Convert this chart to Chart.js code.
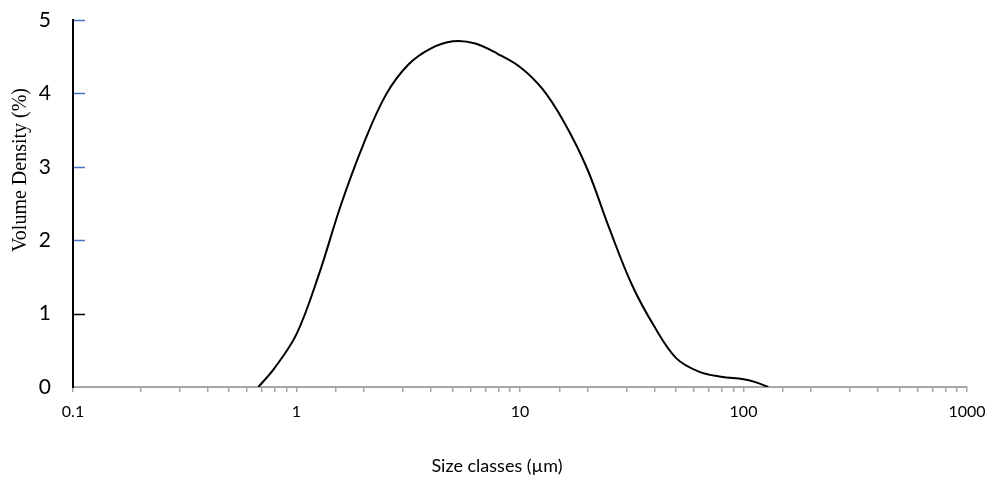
<!DOCTYPE html>
<html>
<head>
<meta charset="utf-8">
<script src="https://cdn.jsdelivr.net/npm/chart.js@4/dist/chart.umd.min.js"></script>
<style>
html,body{margin:0;padding:0;background:#fff;}
#wrap{width:993px;height:487px;}
</style>
</head>
<body>
<div id="wrap"><canvas id="c" width="993" height="487"></canvas></div>
<script>
// Data
const sizeClasses = [0.675, 0.794, 1, 1.26, 1.58, 2.0, 2.51, 3.16, 3.98, 5.01, 6.31, 7.94, 10, 12.6, 15.8, 20.0, 25.1, 31.6, 39.8, 50.1, 63.1, 79.4, 100, 112, 129];
const volumeDensity = [0, 0.25, 0.72, 1.535, 2.48, 3.32, 3.98, 4.39, 4.61, 4.71, 4.68, 4.54, 4.36, 4.06, 3.60, 2.97, 2.16, 1.40, 0.83, 0.39, 0.21, 0.14, 0.105, 0.07, 0];
const xMajorTicks = [0.1, 1, 10, 100, 1000];
const yTicks = [0, 1, 2, 3, 4, 5];
const xTitle = 'Size classes (µm)';
const yTitle = 'Volume Density (%)';

const points = sizeClasses.map((s, i) => ({x: s, y: volumeDensity[i]}));

const innerTickColors = {5: '#4472C4', 4: '#4472C4', 3: '#4472C4', 2: '#4472C4', 1: '#000000'};

const decorPlugin = {
  id: 'decor',
  afterDraw(chart) {
    const ctx = chart.ctx;
    const ys = chart.scales.y;
    const ca = chart.chartArea;
    ctx.save();
    ctx.lineWidth = 1.5;
    yTicks.forEach(v => {
      const c = innerTickColors[v];
      if (!c) return;
      const py = Math.round(ys.getPixelForValue(v)) + 0.5;
      ctx.strokeStyle = c;
      ctx.beginPath();
      ctx.moveTo(ca.left + 1, py);
      ctx.lineTo(ca.left + 12, py);
      ctx.stroke();
    });
    ctx.fillStyle = '#000';
    ctx.font = '20px "Liberation Serif", "Times New Roman", serif';
    ctx.textAlign = 'center';
    ctx.textBaseline = 'middle';
    ctx.translate(21, 170);
    ctx.rotate(-Math.PI / 2);
    ctx.fillText(yTitle, 0, 0);
    ctx.restore();
    ctx.save();
    ctx.fillStyle = '#000';
    ctx.font = '18px Lato, "Open Sans", sans-serif';
    ctx.textAlign = 'center';
    ctx.textBaseline = 'middle';
    ctx.fillText(xTitle, 497, 466);
    ctx.restore();
  }
};

new Chart(document.getElementById('c'), {
  type: 'line',
  data: {
    datasets: [{
      data: points,
      borderColor: '#000',
      borderWidth: 2,
      pointRadius: 0,
      fill: false,
      tension: 0.36
    }]
  },
  options: {
    responsive: false,
    animation: false,
    layout: {padding: {top: 20, right: 26, left: 0, bottom: 0}},
    plugins: {legend: {display: false}, tooltip: {enabled: false}},
    scales: {
      x: {
        type: 'logarithmic',
        min: 0.1,
        max: 1000,
        border: {display: true, color: '#A6A6A6', width: 2},
        grid: {drawOnChartArea: false, drawTicks: true, tickLength: 5, color: '#A6A6A6', lineWidth: 1.5},
        ticks: {
          autoSkip: false,
          maxRotation: 0,
          padding: 10,
          color: '#000',
          font: {family: 'Lato, "Open Sans", sans-serif', size: 16},
          callback: function(v) {
            const m = xMajorTicks.find(t => Math.abs(t - v) / t < 1e-6);
            return m !== undefined ? String(m) : '';
          }
        },
        afterFit(scale) { scale.height = 100; scale.paddingLeft = 0; scale.paddingRight = 0; }
      },
      y: {
        min: 0,
        max: 5,
        border: {display: true, color: '#000', width: 2},
        grid: {display: true, drawOnChartArea: false, drawTicks: false},
        ticks: {
          stepSize: 1,
          padding: 22,
          color: '#000',
          font: {family: 'Lato, "Open Sans", sans-serif', size: 21}
        },
        afterFit(scale) { scale.width = 73; scale.paddingTop = 0; scale.paddingBottom = 0; }
      }
    }
  },
  plugins: [decorPlugin]
});
</script>
</body>
</html>
